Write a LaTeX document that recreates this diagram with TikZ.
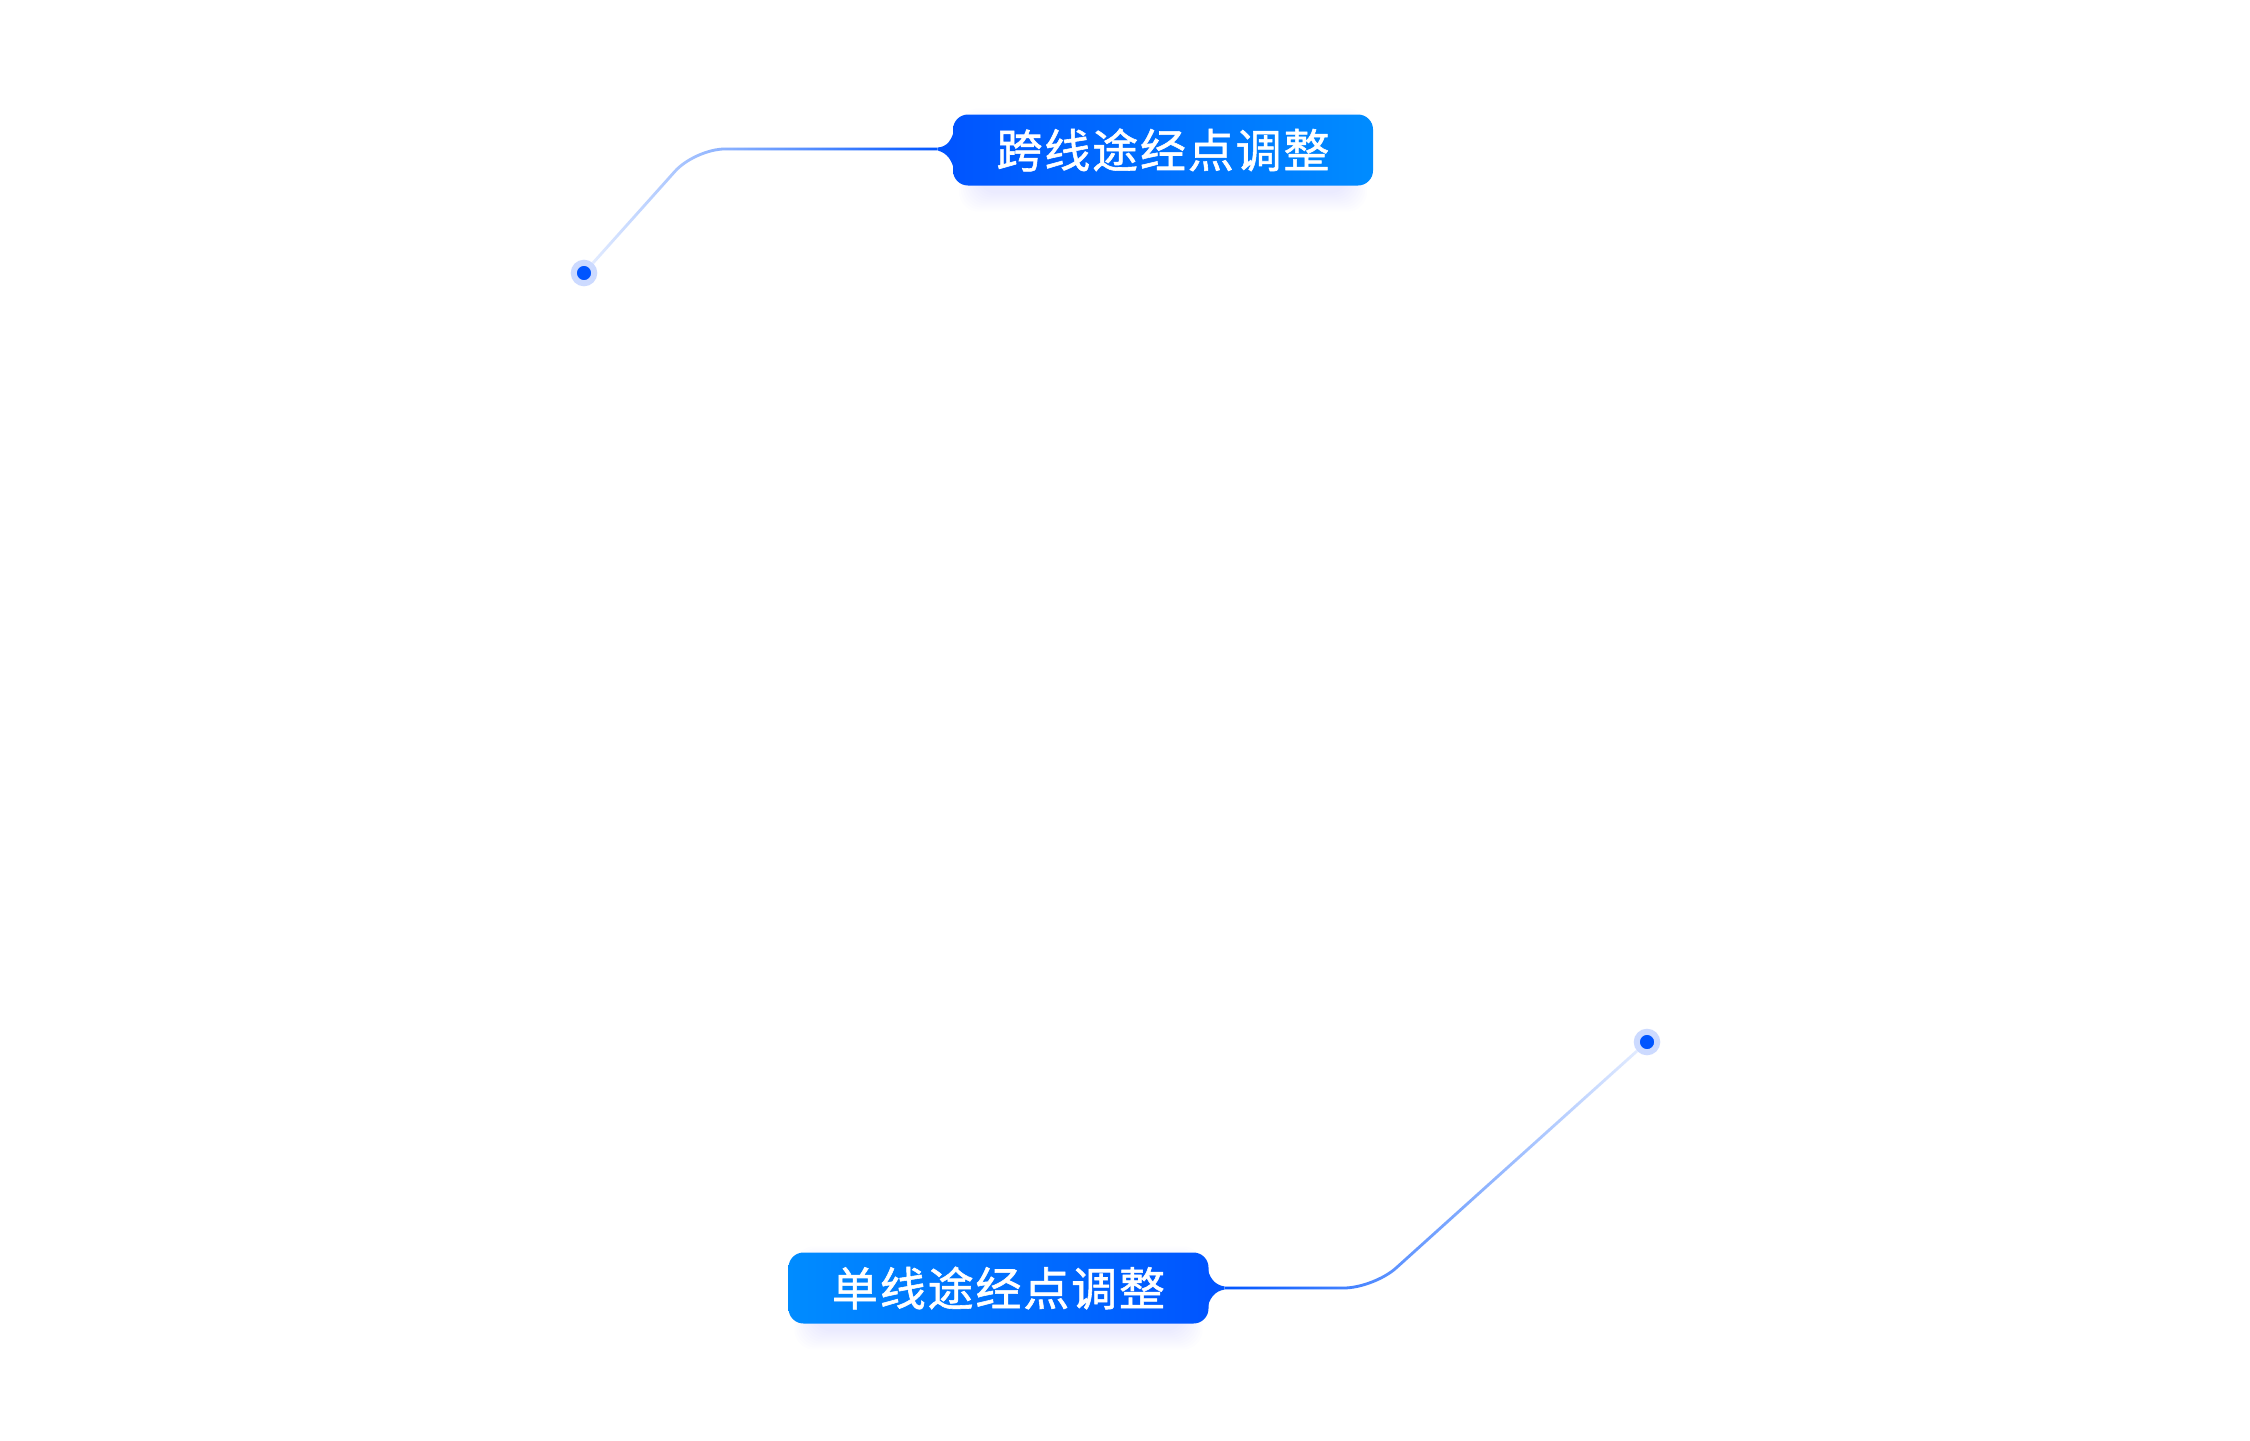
\documentclass[tikz,border=0pt]{standalone}
\usepackage{fontspec}
\newfontfamily\cjk[LetterSpace=4,FakeBold=1.2]{Noto Sans CJK SC}
\usetikzlibrary{fadings,calc,backgrounds}
\definecolor{deep}{HTML}{0055FF}
\definecolor{sky}{HTML}{008CFF}
\definecolor{halo}{HTML}{CCDAFF}
\definecolor{lineLight}{HTML}{E3ECFF}
\tikzfading[name=fadeLR, left color=transparent!100, right color=transparent!0]
\tikzfading[name=fadeRL, left color=transparent!0, right color=transparent!100]
\begin{document}
\begin{tikzpicture}[x=1pt,y=-1pt,
  labelbox/.style={rounded corners=15pt, minimum width=420pt, minimum height=71pt,
    inner sep=0pt, text=white, font=\cjk\fontsize{46}{52}\selectfont},
  dotnode/.style={circle, fill=deep, draw=halo, line width=6pt, minimum size=20.5pt, inner sep=0pt},
  conn/.style={line width=2.8pt, rounded corners=30pt},
  glow/.style={fill=deep, opacity=0.006, rounded corners=20pt}]
\useasboundingbox (0,0) rectangle (2250,1440);

% label boxes
\node[labelbox, left color=deep, right color=sky] (top) at (1163,150) {跨线途经点调整};
\node[labelbox, left color=sky, right color=deep] (bot) at (998.5,1288) {单线途经点调整};

% pointer tips and bends
\coordinate (toptip) at ($(top.west)+(-15,-1)$);
\coordinate (topbend) at (695,149);
\coordinate (bottip) at ($(bot.east)+(16,0)$);
\coordinate (botbend) at (1374,1288);

% pointers
\fill[deep] ($(top.west)+(2,-24)$) .. controls ($(top.west)+(0,-10)$) and ($(top.west)+(-6,-3)$) .. ($(toptip)+(0,-1.5)$)
  -- ($(toptip)+(0,1.5)$) .. controls ($(top.west)+(-6,3)$) and ($(top.west)+(0,10)$) .. ($(top.west)+(2,24)$) -- cycle;
\fill[deep] ($(bot.east)+(-2,-24)$) .. controls ($(bot.east)+(0,-10)$) and ($(bot.east)+(6,-3)$) .. ($(bottip)+(0,-1.5)$)
  -- ($(bottip)+(0,1.5)$) .. controls ($(bot.east)+(6,3)$) and ($(bot.east)+(0,10)$) .. ($(bot.east)+(-2,24)$) -- cycle;

% dots
\node[dotnode] (tdot) at (584,273) {};
\node[dotnode] (bdot) at (1647,1042) {};

% connectors
\draw[conn, lineLight] (tdot) -- (topbend) -- (toptip);
\draw[conn, deep, path fading=fadeLR] (tdot) -- (topbend) -- (toptip);
\draw[conn, lineLight] (bdot) -- (botbend) -- (bottip);
\draw[conn, deep, path fading=fadeRL] (bdot) -- (botbend) -- (bottip);

\begin{scope}[on background layer]
\fill[white] (0,0) rectangle (2250,1440);
\foreach \i in {0,2,...,18} {
  \fill[glow] ($(top.north west)+(24-\i,12-\i)$) rectangle ($(top.south east)+(-24+\i,8+\i)$);
  \fill[glow] ($(bot.north west)+(24-\i,12-\i)$) rectangle ($(bot.south east)+(-24+\i,8+\i)$);
}
\end{scope}
\end{tikzpicture}
\end{document}
